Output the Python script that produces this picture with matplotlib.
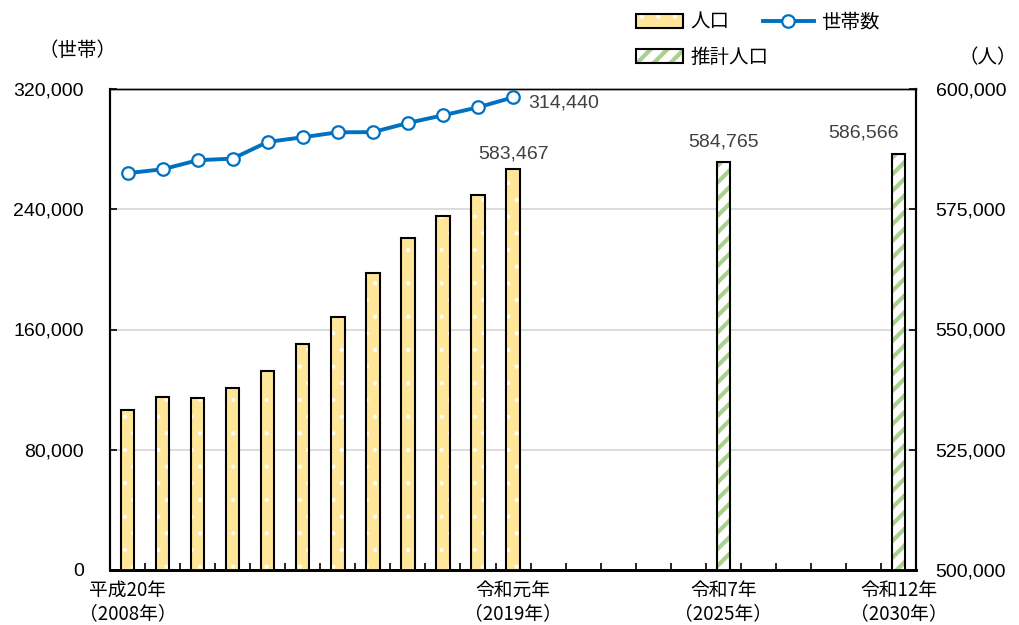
import matplotlib
matplotlib.use("Agg")
import matplotlib.pyplot as plt
from matplotlib.patches import Patch
from matplotlib.lines import Line2D
from matplotlib.legend_handler import HandlerTuple
import numpy as np

plt.rcParams['font.family'] = ['Liberation Sans', 'Noto Sans CJK JP']

# data
years = list(range(2008, 2031))
pop_years = list(range(2008, 2020))
population = [533200, 535900, 535800, 537900, 541400, 546900,
              552600, 561800, 569100, 573600, 578000, 583467]
proj_years = [2025, 2030]
proj_population = [584765, 586566]
households = [264000, 266600, 272600, 273700, 284800, 287900,
              291200, 291300, 297400, 302500, 307800, 314440]
xlabels = {2008: '平成20年\n（2008年）', 2019: '令和元年\n（2019年）',
           2025: '令和7年\n（2025年）', 2030: '令和12年\n（2030年）'}

yellow = '#FFE699'
green = '#A9D18E'
blue = '#0070C0'
textc = '#404040'
cjk = ['Noto Sans CJK JP', 'DejaVu Sans']

fig = plt.figure(figsize=(10.19, 6.25), dpi=100)
ax = fig.add_axes([0.108, 0.088, 0.791, 0.7696])
ax2 = ax.twinx()

idx = {y: i for i, y in enumerate(years)}
px = [idx[y] for y in pop_years]
qx = [idx[y] for y in proj_years]
w = 0.38

# population bars (right axis)
with plt.rc_context({'hatch.linewidth': 0.6}):
    ax2.bar(px, population, width=w, color=yellow, edgecolor='white', hatch='.', linewidth=0, zorder=2)
ax2.bar(px, population, width=w, facecolor='none', edgecolor='black', linewidth=1.5, zorder=3)
with plt.rc_context({'hatch.linewidth': 3.0}):
    ax2.bar(qx, proj_population, width=w, color='white', edgecolor=green, hatch='//', linewidth=0, zorder=2)
ax2.bar(qx, proj_population, width=w, facecolor='none', edgecolor='black', linewidth=1.5, zorder=3)
ax2.set_ylim(500000, 600000)
ax2.set_yticks(np.arange(500000, 600001, 25000))

# households line (left axis scale) drawn on top
ax3 = ax.twinx()
ax3.set_ylim(0, 320000)
ax3.axis('off')
ax3.plot(px, households, color=blue, lw=2.8, marker='o', ms=9, mfc='white', mec=blue, mew=1.6, zorder=5)

ax.set_ylim(0, 320000)
ax.set_yticks(np.arange(0, 320001, 80000))
ax.set_xlim(-0.5, len(years) - 0.5)
ax.grid(axis='y', color='#D9D9D9', lw=1.3)
ax.set_axisbelow(True)

fmt = matplotlib.ticker.FuncFormatter(lambda v, p: f'{int(v):,}')
ax.yaxis.set_major_formatter(fmt)
ax2.yaxis.set_major_formatter(fmt)
ax.tick_params(axis='y', direction='in', length=5, width=1.2, labelsize=14, pad=19, colors='black')
ax2.tick_params(axis='y', direction='in', length=5, width=1.2, labelsize=14, pad=14)

ax.set_xticks([idx[y] for y in xlabels])
ax.set_xticklabels(list(xlabels.values()), fontsize=13.5, linespacing=1.15, family=cjk)
ax.set_xticks(np.arange(0.5, len(years) - 1, 1), minor=True)
ax.tick_params(axis='x', which='major', length=0, pad=7)
ax.tick_params(axis='x', which='minor', direction='in', length=5, width=1.2)

for a in (ax, ax2):
    a.spines['left'].set_linewidth(1.5)
    a.spines['right'].set_linewidth(1.5)
    a.spines['bottom'].set_linewidth(2)
    a.spines['top'].set_linewidth(1)

# labels
ax2.annotate(f'{population[-1]:,}', (px[-1], population[-1]), xytext=(0, 6),
             textcoords='offset pixels', ha='center', va='bottom', fontsize=14, color=textc)
ax3.annotate(f'{households[-1]:,}', (px[-1], households[-1]), xytext=(15, -6),
             textcoords='offset pixels', ha='left', va='center', fontsize=14, color=textc)
ax2.annotate(f'{proj_population[0]:,}', (qx[0], proj_population[0]), xytext=(0, 12),
             textcoords='offset pixels', ha='center', va='bottom', fontsize=14, color=textc)
ax2.annotate(f'{proj_population[1]:,}', (qx[1], proj_population[1]), xytext=(-35, 12),
             textcoords='offset pixels', ha='center', va='bottom', fontsize=14, color=textc)

fig.text(77 / 1019, 1 - 51 / 625, '（世帯）', ha='center', va='center', fontsize=14, family=cjk)
fig.text(1017 / 1019, 1 - 58 / 625, '（人）', ha='right', va='center', fontsize=14, family=cjk)

# legends (separate so each hatch keeps its own line width)
leg_kw = dict(loc='upper left', frameon=False, borderpad=0, borderaxespad=0,
              prop={'family': cjk, 'size': 14}, handletextpad=0.4,
              handler_map={tuple: HandlerTuple(ndivide=1, pad=0)})
with plt.rc_context({'hatch.linewidth': 0.6}):
    h_pop = (Patch(facecolor=yellow, edgecolor='white', hatch='.', linewidth=0),
             Patch(facecolor='none', edgecolor='black', linewidth=1.5))
    leg1 = fig.legend([h_pop], ['人口'], bbox_to_anchor=(636 / 1019, 1 - 12 / 625),
                      handlelength=2.4, handleheight=0.75, **leg_kw)
with plt.rc_context({'hatch.linewidth': 3.0}):
    h_proj = (Patch(facecolor='white', edgecolor=green, hatch='//', linewidth=0),
              Patch(facecolor='none', edgecolor='black', linewidth=1.5))
    leg2 = fig.legend([h_proj], ['推計人口'], bbox_to_anchor=(636 / 1019, 1 - 47 / 625),
                      handlelength=2.4, handleheight=0.75, **leg_kw)
h_hh = Line2D([], [], color=blue, lw=2.8, marker='o', ms=9, mfc='white', mec=blue, mew=1.6)
fig.legend([h_hh], ['世帯数'], bbox_to_anchor=(763 / 1019, 1 - 12 / 625),
           handlelength=2.6, **leg_kw)

fig.savefig('out.png', dpi=100)
